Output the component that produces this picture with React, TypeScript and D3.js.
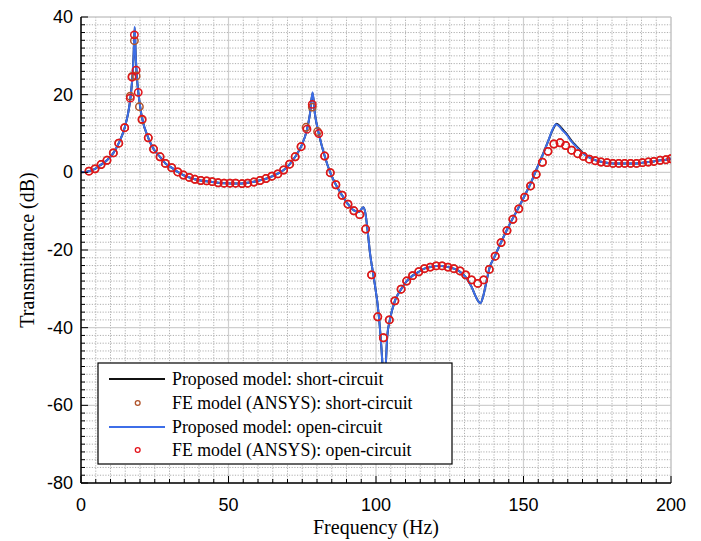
import React from "react";
import * as d3 from "d3";

// ---------- data ----------
const openLineFreq = [0, 2.7, 4.75, 6.8, 8.8, 11, 12.8, 14.8, 16.0, 16.7, 17.3, 17.8, 18.2, 18.55, 19.0, 19.4, 20.0, 20.7, 22.8, 24.6, 26.8, 28.6, 30.7, 32.8, 34.7, 36.7, 38.6, 40.6, 42.6, 44.5, 46.5, 48.5, 50.5, 52.5, 54.6, 56.5, 58.6, 60.7, 62.7, 64.7, 66.7, 68.7, 70.7, 72.6, 74.6, 76.6, 77.6, 78.5, 79.3, 80.6, 82.6, 84.5, 86.4, 88.5, 90.5, 92.5, 94.2, 95.7, 96.4, 97.1, 98.0, 99.1, 101.0, 102.1, 102.75, 103.4, 103.8, 104.7, 106.4, 108.5, 110.4, 112.4, 114.5, 116.4, 118.4, 120.4, 122.4, 124.4, 126.4, 128.5, 130.4, 132.4, 134.0, 135.4, 136.3, 137.2, 138.4, 140.4, 142.4, 144.4, 146.4, 148.4, 150.4, 152.4, 154.3, 156.4, 158.3, 160.0, 161.0, 162.0, 163.0, 164.6, 166.3, 168.0, 170.0, 172.5, 174.3, 176.3, 178.3, 180.3, 182.3, 184.3, 186.3, 188.3, 190.3, 192.3, 194.2, 196.3, 198.3, 200];
const openLineDb = [0, 0.3, 0.9, 2.0, 3.1, 5.0, 7.5, 11.5, 15.3, 18.8, 23.3, 29.5, 37.5, 30.0, 24.0, 20.8, 17.2, 14.0, 8.9, 6.0, 4.0, 2.3, 1.2, 0.1, -0.7, -1.3, -1.8, -2.1, -2.3, -2.5, -2.7, -2.8, -2.85, -2.9, -2.85, -2.7, -2.45, -2.05, -1.65, -1.05, -0.35, 0.6, 2.05, 4.0, 6.6, 11.0, 15.0, 20.6, 15.0, 10.0, 4.2, -0.1, -3.2, -5.9, -8.2, -9.8, -10.2, -9.0, -10.5, -14.6, -21.0, -26.4, -37.2, -48.3, -58.0, -48.3, -42.3, -38.0, -33.1, -30.1, -28.0, -26.6, -25.6, -24.8, -24.4, -24.1, -24.1, -24.4, -24.8, -25.6, -27.0, -29.5, -32.3, -33.7, -32.0, -29.0, -24.8, -21.4, -18.0, -14.8, -11.8, -9.0, -6.0, -2.9, 0.6, 4.3, 7.9, 11.3, 12.4, 11.9, 11.0, 9.7, 7.9, 6.5, 5.0, 3.7, 3.1, 2.7, 2.45, 2.3, 2.3, 2.3, 2.3, 2.3, 2.5, 2.65, 2.8, 3.1, 3.25, 3.5];

const shortLineFreq = [0, 2.7, 4.75, 6.8, 8.8, 11, 12.8, 14.8, 16.0, 16.7, 17.3, 17.8, 18.2, 18.55, 19.0, 19.4, 20.0, 20.7, 22.8, 24.6, 26.8, 28.6, 30.7, 32.8, 34.7, 36.7, 38.6, 40.6, 42.6, 44.5, 46.5, 48.5, 50.5, 52.5, 54.6, 56.5, 58.6, 60.7, 62.7, 64.7, 66.7, 68.7, 70.7, 72.6, 74.6, 76.6, 77.6, 78.5, 79.3, 80.6, 82.6, 84.5, 86.4, 88.5, 90.5, 92.5, 94.2, 95.7, 96.4, 97.1, 98.0, 99.1, 101.0, 102.1, 102.75, 103.4, 103.8, 104.7, 106.4, 108.5, 110.4, 112.4, 114.5, 116.4, 118.4, 120.4, 122.4, 124.4, 126.4, 128.5, 130.4, 132.4, 134.0, 135.4, 136.3, 137.2, 138.4, 140.4, 142.4, 144.4, 146.4, 148.4, 150.4, 152.4, 154.3, 156.4, 158.3, 160.2, 161.2, 162.2, 163.2, 164.6, 166.3, 168.0, 170.0, 172.5, 174.3, 176.3, 178.3, 180.3, 182.3, 184.3, 186.3, 188.3, 190.3, 192.3, 194.2, 196.3, 198.3, 200];
const shortLineDb = [0, 0.3, 0.9, 2.0, 3.1, 5.0, 7.5, 11.5, 15.3, 18.8, 23.3, 29.5, 37.2, 30.0, 24.0, 20.8, 17.2, 14.0, 8.9, 6.0, 4.0, 2.3, 1.2, 0.1, -0.7, -1.3, -1.8, -2.1, -2.3, -2.5, -2.7, -2.8, -2.85, -2.9, -2.85, -2.7, -2.45, -2.05, -1.65, -1.05, -0.35, 0.6, 2.05, 4.0, 6.6, 11.0, 15.0, 20.4, 15.0, 10.0, 4.2, -0.1, -3.2, -5.9, -8.2, -9.8, -10.2, -9.0, -10.5, -14.6, -21.0, -26.4, -37.2, -48.3, -58.0, -48.3, -42.3, -38.0, -33.1, -30.1, -28.0, -26.6, -25.6, -24.8, -24.4, -24.1, -24.1, -24.4, -24.8, -25.6, -27.0, -29.5, -32.3, -33.7, -32.0, -29.0, -24.8, -21.4, -18.0, -14.8, -11.8, -9.0, -6.0, -2.9, 0.6, 4.3, 7.9, 11.4, 12.5, 12.0, 11.1, 9.9, 8.1, 6.7, 5.1, 3.8, 3.15, 2.7, 2.45, 2.3, 2.3, 2.3, 2.3, 2.3, 2.5, 2.65, 2.8, 3.1, 3.25, 3.5];

const feOpenFreq = [2.7, 4.75, 6.8, 8.8, 10.95, 12.8, 14.8, 16.7, 17.3, 18.1, 18.7, 19.4, 20.7, 22.8, 24.6, 26.8, 28.6, 30.75, 32.8, 34.7, 36.7, 38.6, 40.6, 42.6, 44.5, 46.5, 48.5, 50.5, 52.4, 54.6, 56.5, 58.6, 60.7, 62.7, 64.7, 66.7, 68.7, 70.7, 72.6, 74.6, 76.6, 78.4, 80.6, 82.6, 84.5, 86.4, 88.5, 90.5, 92.5, 94.5, 96.5, 98.5, 100.6, 102.5, 104.5, 106.4, 108.5, 110.4, 112.4, 114.5, 116.4, 118.4, 120.4, 122.4, 124.4, 126.4, 128.5, 130.4, 132.4, 134.5, 136.5, 138.4, 140.4, 142.4, 144.4, 146.4, 148.4, 150.4, 152.4, 154.3, 156.4, 158.3, 160.3, 162.4, 164.3, 166.3, 168.4, 170.3, 172.3, 174.3, 176.3, 178.3, 180.3, 182.3, 184.3, 186.3, 188.3, 190.3, 192.3, 194.2, 196.3, 198.3, 200];
const feOpenDb = [0.3, 0.9, 2.0, 3.1, 5.0, 7.5, 11.5, 19.1, 24.5, 35.4, 26.3, 20.6, 13.7, 8.9, 6.0, 4.0, 2.3, 1.2, 0.1, -0.7, -1.3, -1.8, -2.1, -2.2, -2.4, -2.7, -2.8, -2.8, -2.8, -2.9, -2.8, -2.5, -2.1, -1.6, -1.0, -0.4, 0.6, 2.1, 4.0, 6.6, 11.1, 17.5, 10.0, 4.2, -0.1, -3.2, -5.9, -8.2, -9.9, -10.9, -14.6, -26.4, -37.2, -42.6, -38.0, -33.1, -30.1, -28.0, -26.6, -25.6, -24.8, -24.4, -24.1, -24.1, -24.4, -24.8, -25.4, -26.4, -27.7, -28.6, -27.7, -25.0, -21.6, -18.1, -15.0, -12.1, -9.4, -6.4, -3.5, -0.5, 2.6, 5.4, 7.3, 7.6, 6.9, 5.7, 4.8, 4.1, 3.4, 3.0, 2.65, 2.5, 2.3, 2.3, 2.3, 2.3, 2.3, 2.5, 2.65, 2.8, 3.1, 3.25, 3.5];

const feShortFreq = [2.7, 4.75, 6.8, 8.8, 10.95, 12.8, 14.8, 16.7, 17.3, 18.1, 18.7, 19.8, 20.7, 22.8, 24.6, 26.8, 28.6, 30.75, 32.8, 34.7, 36.7, 38.6, 40.6, 42.6, 44.5, 46.5, 48.5, 50.5, 52.4, 54.6, 56.5, 58.6, 60.7, 62.7, 64.7, 66.7, 68.7, 70.7, 72.6, 74.6, 76.3, 78.4, 80.2, 82.6, 84.5, 86.4, 88.5, 90.5, 92.5, 94.5, 96.5, 98.5, 100.6, 102.5, 104.5, 106.4, 108.5, 110.4, 112.4, 114.5, 116.4, 118.4, 120.4, 122.4, 124.4, 126.4, 128.5, 130.4, 132.4, 134.5, 136.5, 138.4, 140.4, 142.4, 144.4, 146.4, 148.4, 150.4, 152.4, 154.3, 156.4, 158.3, 160.3, 162.4, 164.3, 166.3, 168.4, 170.3, 172.3, 174.3, 176.3, 178.3, 180.3, 182.3, 184.3, 186.3, 188.3, 190.3, 192.3, 194.2, 196.3, 198.3, 200];
const feShortDb = [0.3, 0.9, 2.0, 3.1, 5.0, 7.5, 11.5, 19.6, 24.7, 33.9, 24.8, 16.9, 13.5, 8.9, 6.0, 4.0, 2.3, 1.2, 0.1, -0.7, -1.3, -1.8, -2.1, -2.2, -2.4, -2.7, -2.8, -2.8, -2.8, -2.9, -2.8, -2.5, -2.1, -1.6, -1.0, -0.4, 0.6, 2.1, 4.0, 6.6, 11.6, 16.8, 10.5, 4.2, -0.1, -3.2, -5.9, -8.2, -9.9, -10.9, -14.6, -26.4, -37.2, -42.6, -38.0, -33.1, -30.1, -28.0, -26.6, -25.6, -24.8, -24.4, -24.1, -24.1, -24.4, -24.8, -25.4, -26.4, -27.7, -28.6, -27.7, -25.0, -21.6, -18.1, -15.0, -12.1, -9.4, -6.4, -3.5, -0.5, 2.6, 5.4, 7.3, 7.6, 6.9, 5.7, 4.8, 4.1, 3.4, 3.0, 2.65, 2.5, 2.3, 2.3, 2.3, 2.3, 2.3, 2.5, 2.65, 2.8, 3.1, 3.25, 3.5];

const xTickLabels = [0, 50, 100, 150, 200];
const yTickLabels = [40, 20, 0, -20, -40, -60, -80];
const legendLabels = [
  "Proposed model: short-circuit",
  "FE model (ANSYS): short-circuit",
  "Proposed model: open-circuit",
  "FE model (ANSYS): open-circuit",
];

// ---------- layout ----------
const W = 701;
const H = 541;
const L = 81, R = 671, T = 17, B = 483;
const BLUE = "#3d6ee8";
const RED = "#e3131b";
const BROWN = "#b0532a";

export default function App() {
  const x = d3.scaleLinear().domain([0, 200]).range([L, R]);
  const y = d3.scaleLinear().domain([-80, 40]).range([B, T]);

  const line = d3
    .line<[number, number]>()
    .x((d) => x(d[0]))
    .y((d) => y(d[1]))
    .curve(d3.curveMonotoneX);

  const openPts = openLineFreq.map((f, i) => [f, openLineDb[i]] as [number, number]);
  const shortPts = shortLineFreq.map((f, i) => [f, shortLineDb[i]] as [number, number]);

  const minorX = d3.range(0, 201, 5);
  const minorY = d3.range(-80, 41, 2);

  const sans = "'Liberation Sans', Arial, sans-serif";
  const serif = "'Liberation Serif', 'Times New Roman', serif";

  const lgX = 98, lgY = 363, lgW = 354, lgH = 101;
  const rowY = [379, 403, 427, 450];

  return (
    <svg
      width={W}
      height={H}
      style={{ position: "absolute", left: 0, top: 0, background: "#fff" }}
    >
      <defs>
        <clipPath id="plotClip">
          <rect x={L} y={T} width={R - L} height={B - T} />
        </clipPath>
      </defs>
      <rect x={0} y={0} width={W} height={H} fill="#fff" />

      {/* minor grid */}
      {minorX.filter((v) => v % 50 !== 0).map((v) => (
        <line key={"gx" + v} x1={x(v)} x2={x(v)} y1={T} y2={B}
          stroke="#a6a6a6" strokeWidth={0.9} strokeDasharray="1.2,1.5" />
      ))}
      {minorY.filter((v) => v % 20 !== 0).map((v) => (
        <line key={"gy" + v} x1={L} x2={R} y1={y(v)} y2={y(v)}
          stroke="#a6a6a6" strokeWidth={0.9} strokeDasharray="1.2,1.5" />
      ))}
      {/* major grid */}
      {xTickLabels.map((v) => (
        <line key={"Gx" + v} x1={x(v)} x2={x(v)} y1={T} y2={B} stroke="#cfcfcf" strokeWidth={1.2} />
      ))}
      {yTickLabels.map((v) => (
        <line key={"Gy" + v} x1={L} x2={R} y1={y(v)} y2={y(v)} stroke="#cfcfcf" strokeWidth={1.2} />
      ))}

      {/* frame top/right */}
      <line x1={L} x2={R} y1={T} y2={T} stroke="#c4c4c4" strokeWidth={1} />
      <line x1={R} x2={R} y1={T} y2={B} stroke="#c4c4c4" strokeWidth={1} />

      {/* curves */}
      <g clipPath="url(#plotClip)">
        <path d={line(shortPts) || ""} fill="none" stroke="#111" strokeWidth={2} />
        <path d={line(openPts) || ""} fill="none" stroke={BLUE} strokeWidth={2} />
        {feShortFreq.map((f, i) => (
          <circle key={"fs" + i} cx={x(f)} cy={y(feShortDb[i])} r={3.7}
            fill="none" stroke={BROWN} strokeWidth={1.5} />
        ))}
        {feOpenFreq.map((f, i) => (
          <circle key={"fo" + i} cx={x(f)} cy={y(feOpenDb[i])} r={3.7}
            fill="none" stroke={RED} strokeWidth={1.5} />
        ))}
      </g>

      {/* axes */}
      <line x1={L} x2={L} y1={T} y2={B} stroke="#000" strokeWidth={1.5} />
      <line x1={L} x2={R} y1={B} y2={B} stroke="#000" strokeWidth={1.5} />
      {minorX.map((v) => (
        <line key={"tx" + v} x1={x(v)} x2={x(v)} y1={B} y2={B - (v % 50 === 0 ? 7 : 4)}
          stroke="#000" strokeWidth={1} />
      ))}
      {minorY.map((v) => (
        <line key={"ty" + v} x1={L} x2={L + (v % 20 === 0 ? 7 : 4)} y1={y(v)} y2={y(v)}
          stroke="#000" strokeWidth={1} />
      ))}
      {xTickLabels.map((v) => (
        <text key={"lx" + v} x={x(v)} y={511} textAnchor="middle"
          fontFamily={sans} fontSize={18} fill="#000">{v}</text>
      ))}
      {yTickLabels.map((v) => (
        <text key={"ly" + v} x={73} y={y(v)} textAnchor="end" dominantBaseline="central"
          fontFamily={sans} fontSize={18} fill="#000">{v}</text>
      ))}

      <text x={(L + R) / 2} y={534} textAnchor="middle" fontFamily={serif} fontSize={20} fill="#000">
        Frequency (Hz)
      </text>
      <text transform={`translate(27,${(T + B) / 2}) rotate(-90)`} textAnchor="middle"
        dominantBaseline="central" fontFamily={serif} fontSize={20} fill="#000">
        Transmittance (dB)
      </text>

      {/* legend */}
      <rect x={lgX} y={lgY} width={lgW} height={lgH} fill="#fff" stroke="#000" strokeWidth={1.2} />
      <line x1={109} x2={165} y1={rowY[0]} y2={rowY[0]} stroke="#111" strokeWidth={2} />
      <circle cx={137.7} cy={rowY[1]} r={2.4} fill="none" stroke={BROWN} strokeWidth={1.3} />
      <line x1={109} x2={165} y1={rowY[2]} y2={rowY[2]} stroke={BLUE} strokeWidth={2} />
      <circle cx={137.7} cy={rowY[3]} r={2.4} fill="none" stroke={RED} strokeWidth={1.3} />
      {legendLabels.map((t, i) => (
        <text key={"lg" + i} x={172} y={rowY[i]} dominantBaseline="central"
          fontFamily={serif} fontSize={17.8} fill="#000">{t}</text>
      ))}
    </svg>
  );
}
